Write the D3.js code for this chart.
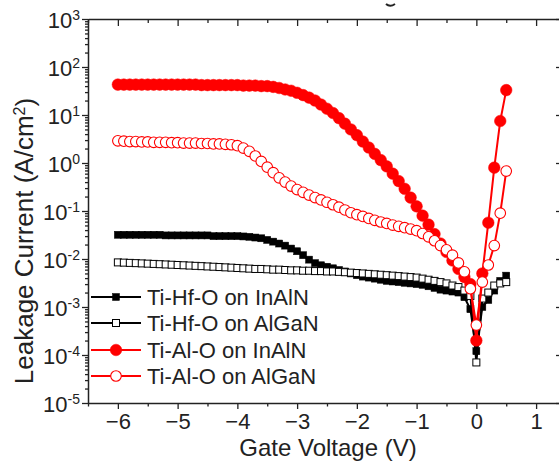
<!DOCTYPE html>
<html lang="en">
<head>
    <meta charset="utf-8">
    <title>Leakage current</title>
    <style>
        body { margin: 0; background: #fff; }
        text { font-family: "Liberation Sans", Arial, sans-serif; fill: #222; }
    </style>
</head>
<body>
    <svg id="chart" width="559" height="466"></svg>
    <script src="https://cdn.jsdelivr.net/npm/d3@7"></script>
    <script>
        // gate voltage, -6 V .. 0.5 V in 0.1 V steps
        const voltage = d3.range(66).map(i => Math.round((-6 + i * 0.1) * 10) / 10);

        const hfInAlN = [
            0.032, 0.032, 0.032, 0.032, 0.032, 0.032, 0.032, 0.032, 0.031, 0.031,
            0.031, 0.031, 0.031, 0.031, 0.031, 0.031, 0.030, 0.030, 0.030, 0.030,
            0.030, 0.0295, 0.029, 0.028, 0.027, 0.025, 0.023, 0.021, 0.019, 0.0165,
            0.0145, 0.012, 0.0097, 0.0082, 0.0074, 0.0069, 0.0064, 0.0059, 0.0055, 0.0050,
            0.0046, 0.0043, 0.0041, 0.0039, 0.0037, 0.0035, 0.0034, 0.0033, 0.0032, 0.0031,
            0.0030, 0.0029, 0.0027, 0.0025, 0.0023, 0.0022, 0.0021, 0.0020, 0.0016, 0.0009,
            0.00012, 0.0010, 0.0014, 0.0022, 0.0035, 0.0045
        ];
        const hfAlGaN = [
            0.0085, 0.0084, 0.0083, 0.0082, 0.0081, 0.0080, 0.0079, 0.0078, 0.0077, 0.0076,
            0.0075, 0.0074, 0.0073, 0.0072, 0.0071, 0.0070, 0.0069, 0.0068, 0.0067, 0.0066,
            0.0065, 0.0064, 0.0063, 0.0062, 0.0062, 0.0061, 0.0060, 0.0060, 0.0059, 0.0058,
            0.0058, 0.0057, 0.0057, 0.0056, 0.0056, 0.0055, 0.0055, 0.0054, 0.0053, 0.0052,
            0.0051, 0.0050, 0.0049, 0.0048, 0.0047, 0.0046, 0.0045, 0.0044, 0.0043, 0.0042,
            0.0041, 0.0039, 0.0037, 0.0035, 0.0033, 0.0031, 0.0028, 0.0026, 0.0022, 0.0017,
            0.00007, 0.0015, 0.0020, 0.0028, 0.0031, 0.0033
        ];
        const alInAlN = [
            43, 43, 43, 43, 43, 43, 43, 43, 43, 43,
            43, 43, 43, 43, 42, 42, 42, 42, 42, 42,
            42, 41, 41, 41, 40, 40, 38.5, 36.5, 34, 32,
            29, 26, 23, 20, 16.5, 13.5, 11, 8.6, 6.6, 5.0,
            3.8, 2.8, 2.1, 1.55, 1.15, 0.85, 0.6, 0.42, 0.29, 0.19,
            0.125, 0.08, 0.052, 0.033, 0.021, 0.014, 0.0093, 0.0062, 0.0042, 0.003,
            0.0002, 0.005, 0.057, 0.8, 7.5, 33
        ];
        const alAlGaN = [
            2.9, 2.85, 2.8, 2.8, 2.75, 2.75, 2.7, 2.7, 2.7, 2.65,
            2.65, 2.6, 2.6, 2.6, 2.55, 2.55, 2.5, 2.5, 2.45, 2.4,
            2.3, 2.05, 1.75, 1.4, 1.08, 0.82, 0.63, 0.49, 0.40, 0.33,
            0.28, 0.245, 0.215, 0.19, 0.17, 0.152, 0.135, 0.12, 0.105, 0.092,
            0.084, 0.077, 0.07, 0.064, 0.059, 0.055, 0.051, 0.048, 0.045, 0.042,
            0.039, 0.034, 0.029, 0.024, 0.019, 0.0155, 0.012, 0.0083, 0.0054, 0.0024,
            0.00042, 0.0033, 0.0075, 0.019, 0.09, 0.68
        ];

        const seriesNames = ["Ti-Hf-O on InAlN", "Ti-Hf-O on AlGaN", "Ti-Al-O on InAlN", "Ti-Al-O on AlGaN"];
        const xTicks = [-6, -5, -4, -3, -2, -1, 0, 1];
        const yExponents = [-5, -4, -3, -2, -1, 0, 1, 2, 3];

        const series = [
            {name: seriesNames[0], values: hfInAlN, color: "#000", shape: "square", filled: true},
            {name: seriesNames[1], values: hfAlGaN, color: "#000", shape: "square", filled: false},
            {name: seriesNames[2], values: alInAlN, color: "#ff0000", shape: "circle", filled: true},
            {name: seriesNames[3], values: alAlGaN, color: "#ff0000", shape: "circle", filled: false}
        ];

        const svg = d3.select("#chart");
        const plotLeft = 88, plotRight = 560, plotTop = 19, plotBottom = 403;

        const x = d3.scaleLinear().domain([-6.5, 1.4]).range([plotLeft, plotRight]);
        const y = d3.scaleLog().domain([1e-5, 1e3]).range([plotBottom, plotTop]);

        svg.append("rect").attr("width", 559).attr("height", 466).attr("fill", "#fff");

        // bit of the cropped title above the frame
        svg.append("path").attr("d", "M386,4 Q390,7.5 395,4")
            .attr("fill", "none").attr("stroke", "#222").attr("stroke-width", 2);

        const axisColor = "#222";
        const minorX = d3.range(-6.5, 1.41, 0.5).filter(v => !xTicks.includes(v));
        const minorY = [];
        yExponents.slice(0, -1).forEach(e => {
            for (let k = 2; k <= 9; k++) minorY.push(k * Math.pow(10, e));
        });

        function style(g) {
            g.select(".domain").attr("stroke", axisColor).attr("stroke-width", 1.5);
            g.selectAll(".tick line").attr("stroke", axisColor).attr("stroke-width", 1.3);
        }

        // bottom
        svg.append("g").attr("transform", `translate(0,${plotBottom})`)
            .call(d3.axisBottom(x).tickValues(minorX).tickSize(3.5).tickFormat(""))
            .call(style).select(".domain").remove();
        svg.append("g").attr("transform", `translate(0,${plotBottom})`)
            .call(d3.axisBottom(x).tickValues(xTicks).tickSize(6).tickSizeOuter(0).tickPadding(4).tickFormat(d3.format("d")))
            .call(style)
            .selectAll("text").style("font-size", "22px").attr("fill", axisColor);

        // top
        svg.append("g").attr("transform", `translate(0,${plotTop})`)
            .call(d3.axisTop(x).tickValues(minorX).tickSize(-4).tickFormat(""))
            .call(style).select(".domain").remove();
        svg.append("g").attr("transform", `translate(0,${plotTop})`)
            .call(d3.axisTop(x).tickValues(xTicks).tickSize(-7).tickSizeOuter(0).tickFormat(""))
            .call(style);

        // left
        svg.append("g").attr("transform", `translate(${plotLeft},0)`)
            .call(d3.axisLeft(y).tickValues(minorY).tickSize(3).tickFormat(""))
            .call(style).select(".domain").remove();
        const yAxis = svg.append("g").attr("transform", `translate(${plotLeft},0)`)
            .call(d3.axisLeft(y).tickValues(yExponents.map(e => Math.pow(10, e))).tickSize(6).tickSizeOuter(0).tickFormat(""))
            .call(style);
        yAxis.selectAll(".tick").append("text")
            .attr("x", -8).attr("dy", "0.38em").attr("text-anchor", "end")
            .style("font-size", "22px")
            .each(function(d) {
                const t = d3.select(this);
                t.append("tspan").text("10");
                t.append("tspan").attr("dy", "-0.55em").style("font-size", "14px")
                    .text(String(Math.round(Math.log10(d))));
            });

        // right
        svg.append("g").attr("transform", `translate(${plotRight},0)`)
            .call(d3.axisRight(y).tickValues(yExponents.map(e => Math.pow(10, e))).tickSize(-4).tickSizeOuter(0).tickFormat(""))
            .call(style);

        // series
        const line = d3.line().x((d, i) => x(voltage[i])).y(d => y(d));

        function drawMarker(g, s, cx, cy) {
            if (s.shape === "square") {
                g.append("rect").attr("x", cx - 3.5).attr("y", cy - 3.5).attr("width", 7).attr("height", 7)
                    .attr("fill", s.filled ? s.color : "#fff")
                    .attr("stroke", s.color).attr("stroke-width", s.filled ? 0.5 : 1);
            } else {
                g.append("circle").attr("cx", cx).attr("cy", cy).attr("r", s.filled ? 5.8 : 5.3)
                    .attr("fill", s.filled ? s.color : "#fff")
                    .attr("stroke", s.color).attr("stroke-width", s.filled ? 0.5 : 1.1);
            }
        }

        series.forEach(s => {
            const g = svg.append("g");
            g.append("path").datum(s.values).attr("d", line)
                .attr("fill", "none").attr("stroke", s.color).attr("stroke-width", 2);
            s.values.forEach((v, i) => drawMarker(g, s, x(voltage[i]), y(v)));
        });

        // legend
        const legendRows = [297, 323, 350, 376];
        series.forEach((s, i) => {
            const g = svg.append("g");
            const ly = legendRows[i];
            g.append("line").attr("x1", 91).attr("x2", 141).attr("y1", ly).attr("y2", ly)
                .attr("stroke", s.color).attr("stroke-width", 2);
            drawMarker(g, s, 116, ly);
            g.append("text").attr("x", 147).attr("y", ly).attr("dy", "0.36em")
                .style("font-size", "22px").attr("fill", "#222").text(s.name);
        });

        // axis titles
        svg.append("text").attr("x", 328).attr("y", 456).attr("text-anchor", "middle")
            .style("font-size", "24px").text("Gate Voltage (V)");
        const yt = svg.append("text").attr("transform", "translate(33,241) rotate(-90)")
            .attr("text-anchor", "middle").style("font-size", "26px");
        yt.append("tspan").text("Leakage Current (A/cm");
        yt.append("tspan").attr("dy", "-0.5em").style("font-size", "16px").text("2");
        yt.append("tspan").attr("dy", "0.35em").text(")");
    </script>
</body>
</html>
